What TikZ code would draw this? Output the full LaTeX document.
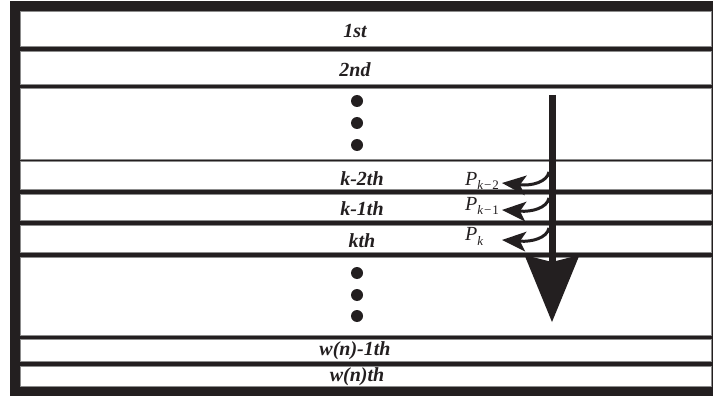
\documentclass[tikz,border=0pt]{standalone}
\usepackage{fontspec}
\setmainfont{Liberation Serif}
\usetikzlibrary{arrows.meta}
\definecolor{ink}{RGB}{35,31,32}
\begin{document}
\begin{tikzpicture}[x=1pt,y=-1pt,
  rowbox/.style={fill=white,draw=black!45,line width=0.5pt},
  rowlabel/.style={font=\fontsize{20}{20}\selectfont\bfseries\itshape,text=ink,anchor=base,inner sep=0pt},
  dotmark/.style={circle,fill=ink,minimum size=12pt,inner sep=0pt},
  plabel/.style={anchor=base west,inner sep=0pt,text=ink},
  bendarrow/.style={draw=ink,line width=3pt,-{Stealth[length=24pt,width=20pt,inset=6pt,line width=0pt]}},
  bigarrow/.style={draw=ink,line width=7pt,-{Stealth[length=67pt,width=55pt,inset=7pt,line width=0pt]}},
]
\useasboundingbox (0,0) rectangle (713,396);
\fill[white] (0,0) rectangle (713,396);
\fill[ink] (10,1) rectangle (713,396);
\foreach \a/\b in {11/46,51/84,88/159,161/189,194/220,225/252,257/335,339/361,366/386}
  \filldraw[rowbox] (20,\a) rectangle (711.5,\b);

% row labels
\node[rowlabel] (r1) at (355,38) {1st};
\node[rowlabel] (r2) at (355,77) {2nd};
\node[rowlabel] (rk2) at (362,185) {k-2th};
\node[rowlabel] (rk1) at (362,215) {k-1th};
\node[rowlabel] (rk) at (362,247) {kth};
\node[rowlabel] (rw1) at (355,355) {w(n)-1th};
\node[rowlabel] (rw) at (357,381) {w(n)th};

% dots
\node[dotmark] (d1) at (357,101) {};
\node[dotmark] (d2) at (357,123) {};
\node[dotmark] (d3) at (357,145) {};
\node[dotmark] (d4) at (357,273) {};
\node[dotmark] (d5) at (357,295) {};
\node[dotmark] (d6) at (357,316) {};

% big downward arrow
\coordinate (top) at (552,95);
\coordinate (tip) at (552,322);
\draw[bigarrow] (top) -- (tip);

% curved arrows
\coordinate (s1) at (549,172);
\coordinate (t1) at (502,183);
\coordinate (s2) at (549,198);
\coordinate (t2) at (502,210);
\coordinate (s3) at (549,228);
\coordinate (t3) at (502,240);
\draw[bendarrow] (s1) .. controls (547,182) and (532,186) .. (t1);
\draw[bendarrow] (s2) .. controls (547,208) and (532,212) .. (t2);
\draw[bendarrow] (s3) .. controls (547,238) and (532,242) .. (t3);

% P labels
\node[plabel] (p2) at (465,185) {\fontsize{20}{20}\selectfont\textit{P}\raisebox{-4pt}{\fontsize{13}{13}\selectfont\textit{k}\kern0.8pt−\kern0.8pt2}};
\node[plabel] (p1) at (465,210) {\fontsize{20}{20}\selectfont\textit{P}\raisebox{-4pt}{\fontsize{13}{13}\selectfont\textit{k}\kern0.8pt−\kern0.8pt1}};
\node[plabel] (p0) at (465,240) {\fontsize{20}{20}\selectfont\textit{P}\raisebox{-5pt}{\fontsize{13}{13}\selectfont\textit{k}}};
\end{tikzpicture}
\end{document}
